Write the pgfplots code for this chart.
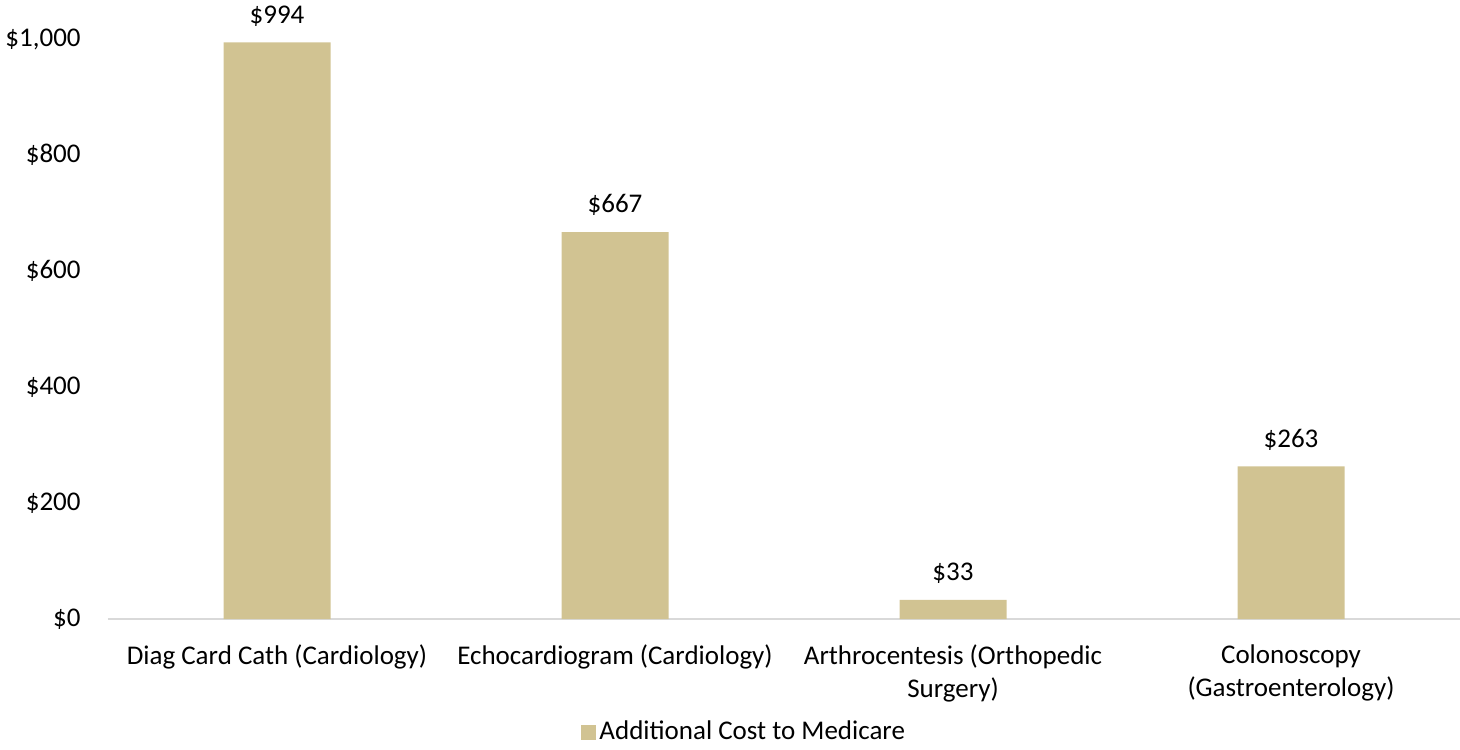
\documentclass[border=0pt]{standalone}
\usepackage{pgfplots}
\pgfplotsset{compat=1.18}
\usepackage{fontspec}
\setmainfont{Carlito}
\definecolor{barcol}{HTML}{D1C392}
\definecolor{axgray}{HTML}{D9D9D9}
\begin{document}
\fontsize{13.5}{16.5}\selectfont
\begin{tikzpicture}
\useasboundingbox (-54pt,-65pt) rectangle (676pt,309.5pt);
\begin{axis}[
  at={(0pt,0pt)}, anchor=south west,
  scale only axis,
  width=676pt, height=290pt,
  xmin=-0.5, xmax=3.5,
  ymin=0, ymax=1000,
  clip=false,
  axis x line*=bottom,
  axis y line*=left,
  y axis line style={draw=none},
  x axis line style={draw=axgray, line width=0.8pt},
  major tick length=0pt,
  xtick={0,1,2,3},
  xticklabels={{Diag Card Cath (Cardiology)},{Echocardiogram (Cardiology)},{Arthrocentesis (Orthopedic\\Surgery)},{Colonoscopy\\(Gastroenterology)}},
  xticklabel style={align=center, yshift=-8pt},
  ytick={0,200,400,600,800,1000},
  yticklabels={\$0,\$200,\$400,\$600,\$800,{\$1,000}},
  yticklabel style={xshift=-9pt},
  ybar, bar width=53.5pt,
  nodes near coords={\$\pgfmathprintnumber[assume math mode=true]{\pgfplotspointmeta}},
  every node near coord/.append style={text=black, yshift=3.5pt},
  legend style={at={(0.471,0)}, anchor=center, yshift=-56.5pt, draw=none, fill=none,
    legend cell align=left},
  legend image code/.code={\fill[barcol] (0pt,-3.75pt) rectangle (7.5pt,3.75pt);},
]
\addplot[fill=barcol, draw=none] coordinates {(0,994) (1,667) (2,33) (3,263)};
\addlegendentry{Additional Cost to Medicare}
\end{axis}
\end{tikzpicture}
\end{document}
